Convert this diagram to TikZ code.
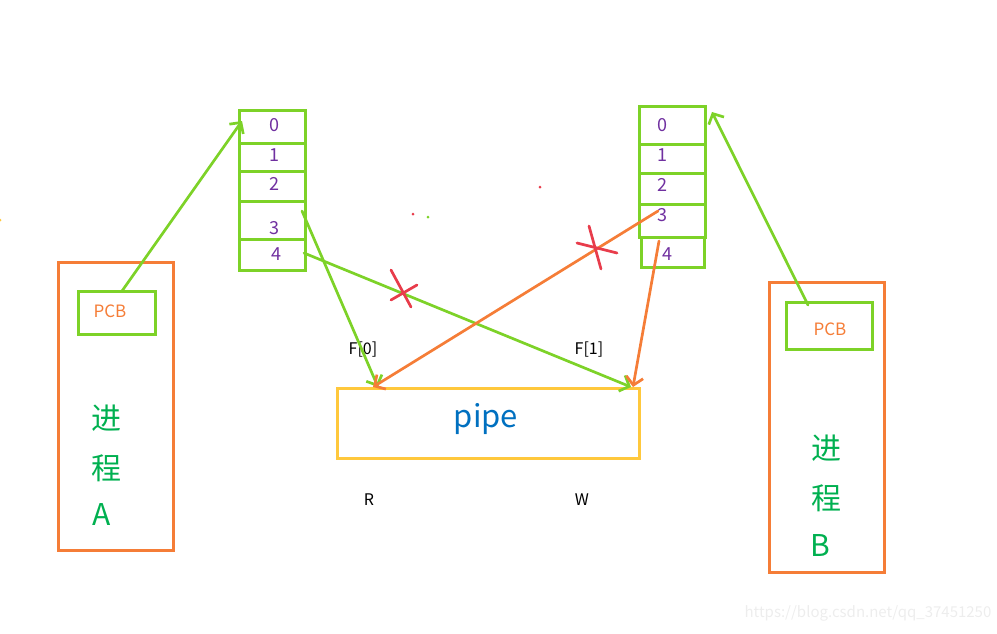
\documentclass[tikz,border=0pt]{standalone}
\usepackage{fontspec}
\setmainfont{Noto Sans CJK SC}
\usetikzlibrary{arrows.meta}
\definecolor{lgreen}{RGB}{125,210,40}
\definecolor{orng}{RGB}{245,125,55}
\definecolor{purp}{RGB}{112,48,160}
\definecolor{tgreen}{RGB}{0,176,80}
\definecolor{yel}{RGB}{255,200,60}
\definecolor{pblue}{RGB}{0,112,192}
\definecolor{xred}{RGB}{232,60,75}
\tikzset{
  cell/.style={draw=lgreen,line width=2.7pt,anchor=north west,inner sep=0pt,minimum width=66pt},
  digit/.style={text=purp,font=\fontsize{18}{18}\selectfont,inner sep=0pt},
  pbox/.style={draw=orng,line width=2.7pt,anchor=north west,inner sep=0pt},
  pcb/.style={draw=lgreen,line width=2.7pt,anchor=north west,inner sep=0pt},
  pcbtext/.style={text=orng,font=\fontsize{17}{17}\selectfont,inner sep=0pt},
  ptext/.style={text=tgreen,font=\fontsize{30}{30}\selectfont,inner sep=0pt},
  lbl/.style={text=black,font=\fontsize{16}{16}\selectfont,inner sep=0pt},
  garrow/.style={draw=lgreen,line width=2.7pt,line cap=round,-{Straight Barb[length=8pt,width=17pt]}},
  oarrow/.style={draw=orng,line width=2.7pt,line cap=round,-{Straight Barb[length=8pt,width=17pt]}},
  xstroke/.style={draw=xred,line width=2.7pt,line cap=round},
}
\begin{document}
\begin{tikzpicture}[x=1pt,y=-1pt]
\useasboundingbox (0,0) rectangle (997,633);
% left fd table
\node[cell,minimum height=33pt] (L0) at (238,109) {};
\node[cell,minimum height=28pt] (L1) at (238,142) {};
\node[cell,minimum height=30pt] (L2) at (238,170) {};
\node[cell,minimum height=38pt] (L3) at (238,200) {};
\node[cell,minimum height=31pt] (L4) at (238,238) {};
\node[digit] (l0) at (274,125) {0};
\node[digit] (l1) at (274,155) {1};
\node[digit] (l2) at (274,184) {2};
\node[digit] (l3) at (274,228) {3};
\node[digit] (l4) at (276,254) {4};
% right fd table
\node[cell,minimum height=38pt] (R0) at (638,105) {};
\node[cell,minimum height=29pt] (R1) at (638,143) {};
\node[cell,minimum height=31pt] (R2) at (638,172) {};
\node[cell,minimum height=33pt] (R3) at (638,203) {};
\node[cell,minimum height=30pt,minimum width=63pt] (R4) at (640,236) {};
\node[digit] (r0) at (662,125) {0};
\node[digit] (r1) at (662,155) {1};
\node[digit] (r2) at (662,185) {2};
\node[digit] (r3) at (662,215) {3};
\node[digit] (r4) at (667,254) {4};
% process A
\node[pbox,minimum width=115pt,minimum height=288pt] (A) at (57,261) {};
\node[pcb,minimum width=77pt,minimum height=43pt] (pcbA) at (77,290) {};
\node[pcbtext] (pcbAt) at (110,311) {PCB};
\node[ptext] (a1) at (106,418) {进};
\node[ptext] (a2) at (106,468) {程};
\node[ptext] (a3) at (102,514) {A};
% process B
\node[pbox,minimum width=115pt,minimum height=290pt] (B) at (768,281) {};
\node[pcb,minimum width=86pt,minimum height=47pt] (pcbB) at (785,301) {};
\node[pcbtext] (pcbBt) at (830,329) {PCB};
\node[ptext] (b1) at (826,448) {进};
\node[ptext] (b2) at (826,498) {程};
\node[ptext] (b3) at (820,545) {B};
% pipe
\node[draw=yel,line width=2.7pt,anchor=north west,minimum width=302pt,minimum height=70pt,inner sep=0pt] (pipe) at (336,387) {};
\node[text=pblue,font=\fontsize{31}{31}\selectfont,inner sep=0pt] (pipet) at (486,419) {pipe};
\node[lbl] (f0) at (363,350) {F[0]};
\node[lbl] (f1) at (589,350) {F[1]};
\node[lbl] (rr) at (369,500) {R};
\node[lbl] (ww) at (582,500) {W};
% arrow end points
\coordinate (sA) at (122,291);
\coordinate (eA) at (242,121);
\coordinate (s3) at (302,211);
\coordinate (e3) at (378,387);
\coordinate (s4) at (304,253);
\coordinate (e4) at (631,387);
\coordinate (t3) at (658,211);
\coordinate (u3) at (373,387);
\coordinate (t4) at (659,241);
\coordinate (u4) at (633,387);
\coordinate (sB) at (808,305);
\coordinate (eB) at (712,112);
\draw[garrow] (sA) -- (eA);
\draw[garrow] (s3) -- (e3);
\draw[garrow] (s4) -- (e4);
\draw[oarrow] (t3) -- (u3);
\draw[oarrow] (t4) -- (u4);
\draw[garrow] (sB) -- (eB);
% red crosses
\coordinate (x1a) at (391,270); \coordinate (x1b) at (411,307);
\coordinate (x1c) at (391,300); \coordinate (x1d) at (417,285);
\coordinate (x2a) at (589,226); \coordinate (x2b) at (601,269);
\coordinate (x2c) at (577,243); \coordinate (x2d) at (617,253);
\draw[xstroke] (x1a) -- (x1b);
\draw[xstroke] (x1c) -- (x1d);
\draw[xstroke] (x2a) -- (x2b);
\draw[xstroke] (x2c) -- (x2d);
% stray dots
\fill[xred] (413,214) circle (1.5pt);
\fill[lgreen] (428,217) circle (1.5pt);
\fill[xred] (540,187) circle (1.5pt);
\fill[yel] (0,220) circle (1.5pt);
% watermark
\node[text=black!7,font=\fontsize{15}{15}\selectfont,inner sep=0pt] (wm) at (868,613) {https://blog.csdn.net/qq\_37451250};
\end{tikzpicture}
\end{document}
